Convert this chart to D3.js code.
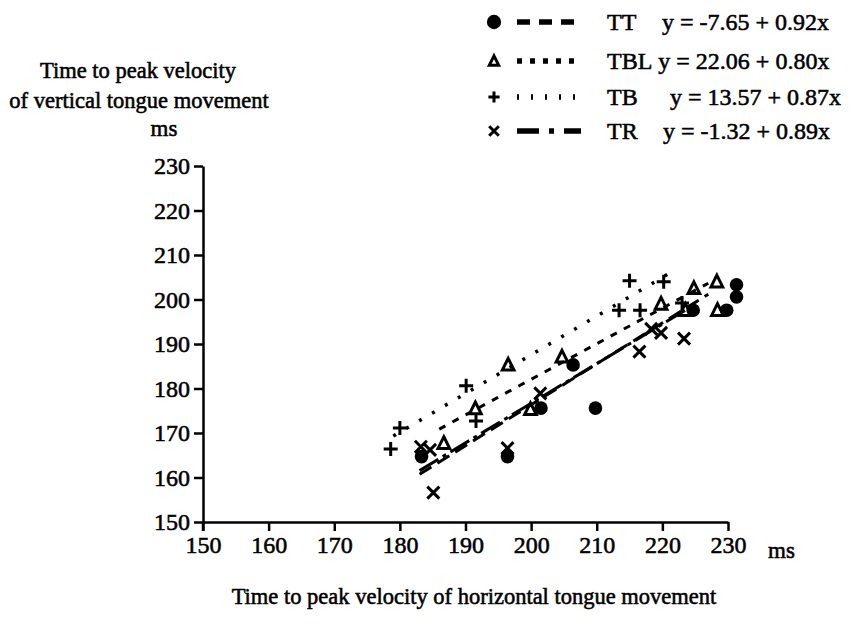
<!DOCTYPE html>
<html>
<head>
<meta charset="utf-8">
<script src="https://cdn.jsdelivr.net/npm/d3@7/dist/d3.min.js"></script>
<style>
  html, body { margin: 0; padding: 0; background: #fff; }
  svg text { font-family: "Liberation Serif", "DejaVu Serif", serif; fill: #000; stroke: #000; stroke-width: 0.55px; }
</style>
</head>
<body>
<div id="chart"></div>
<script>
// tick values (ms)
const xTicks = [150, 160, 170, 180, 190, 200, 210, 220, 230];
const yTicks = [150, 160, 170, 180, 190, 200, 210, 220, 230];

// series (horizontal ms, vertical ms)
const seriesNames = ['TT', 'TBL', 'TB', 'TR'];
const equations = ['y = -7.65 + 0.92x', 'y = 22.06 + 0.80x', 'y = 13.57 + 0.87x', 'y = -1.32 + 0.89x'];
const intercepts = [-7.65, 22.06, 13.57, -1.32];
const slopes = [0.92, 0.80, 0.87, 0.89];
const lineRanges = [[183, 227], [186, 227], [179, 221], [183, 224]];

const ttPoints = [[183.3, 164.7], [196.4, 164.7], [201.5, 175.6], [209.8, 175.6], [206.4, 185.3],
  [224.7, 197.6], [229.8, 197.6], [231.3, 203.3], [231.3, 200.6]];
const tblPoints = [[186.7, 167.7], [191.5, 175.5], [196.5, 185.3], [199.9, 175.3], [204.7, 187.1],
  [219.8, 199.0], [223.5, 197.6], [224.8, 202.5], [228.3, 204.0], [228.4, 197.6]];
const tbPoints = [[178.6, 166.4], [180.0, 171.1], [190.1, 180.6], [191.6, 172.7], [213.4, 197.6],
  [216.6, 197.6], [215.0, 204.2], [220.2, 204.0], [223.0, 199.2]];
const trPoints = [[183.2, 166.9], [184.6, 166.2], [185.1, 156.6], [196.4, 166.6], [201.4, 178.9],
  [216.5, 188.3], [218.3, 193.4], [219.8, 192.5], [223.3, 191.2]];
const allPoints = [ttPoints, tblPoints, tbPoints, trPoints];

const W = 866, H = 636;
const svg = d3.select('#chart').append('svg').attr('width', W).attr('height', H);

const x = d3.scaleLinear().domain([150, 230]).range([203, 728]);
const y = d3.scaleLinear().domain([150, 230]).range([522, 166]);

// axes
const xAxis = svg.append('g').attr('transform', `translate(0,${y(150)})`)
  .call(d3.axisBottom(x).tickValues(xTicks).tickSize(9).tickSizeOuter(0).tickPadding(5));
const yAxis = svg.append('g').attr('transform', `translate(${x(150)},0)`)
  .call(d3.axisLeft(y).tickValues(yTicks).tickSize(9).tickSizeOuter(0).tickPadding(4));
[xAxis, yAxis].forEach(g => {
  g.attr('font-family', null);
  g.select('.domain').attr('stroke', '#000').attr('stroke-width', 2.5);
  g.selectAll('.tick line').attr('stroke', '#000').attr('stroke-width', 2.5);
  g.selectAll('.tick text').style('font-size', '24px').attr('fill', '#000');
});
// y axis reaches a little below the x axis (cross at origin)
svg.append('line').attr('x1', x(150)).attr('x2', x(150)).attr('y1', y(150)).attr('y2', y(150) + 9)
  .attr('stroke', '#000').attr('stroke-width', 2.5);

svg.append('text').attr('x', 768).attr('y', 558).style('font-size', '23px').text('ms');
svg.append('text').attr('x', 164).attr('y', 136).attr('text-anchor', 'middle').style('font-size', '23px').text('ms');

svg.append('text').attr('x', 138).attr('y', 78).attr('text-anchor', 'middle').style('font-size', '22.5px')
  .text('Time to peak velocity');
svg.append('text').attr('x', 139).attr('y', 108).attr('text-anchor', 'middle').style('font-size', '22.5px')
  .text('of vertical tongue movement');
svg.append('text').attr('x', 474).attr('y', 604).attr('text-anchor', 'middle').style('font-size', '22.5px')
  .text('Time to peak velocity of horizontal tongue movement');

// line styles
const plotDash = ['14,7', '7,8', '3,12', '22,5,4,5'];
const legendDash = ['13,9', '5,8', '2,12', '22,10,5,10'];

// regression lines
seriesNames.forEach((s, i) => {
  const [a, b] = lineRanges[i];
  svg.append('line')
    .attr('x1', x(a)).attr('y1', y(intercepts[i] + slopes[i] * a))
    .attr('x2', x(b)).attr('y2', y(intercepts[i] + slopes[i] * b))
    .attr('stroke', '#000').attr('stroke-width', i === 2 ? 3.5 : 3)
    .attr('stroke-dasharray', plotDash[i]);
});

// markers
function marker(g, i, cx, cy, k) {
  if (i === 0) {
    g.append('circle').attr('cx', cx).attr('cy', cy).attr('r', 6.8 * k).attr('fill', '#000');
  } else if (i === 1) {
    const s = 6.5 * k;
    g.append('path').attr('d', `M${cx},${cy - s}L${cx + s * 0.9},${cy + s * 0.8}L${cx - s * 0.9},${cy + s * 0.8}Z`)
      .attr('fill', 'none').attr('stroke', '#000').attr('stroke-width', 3);
  } else if (i === 2) {
    const s = 7 * k;
    g.append('path').attr('d', `M${cx - s},${cy}H${cx + s}M${cx},${cy - s}V${cy + s}`)
      .attr('stroke', '#000').attr('stroke-width', 3);
  } else {
    const s = 6 * k;
    g.append('path').attr('d', `M${cx - s},${cy - s}L${cx + s},${cy + s}M${cx + s},${cy - s}L${cx - s},${cy + s}`)
      .attr('stroke', '#000').attr('stroke-width', 3);
  }
}

const pts = svg.append('g');
allPoints.forEach((arr, i) => {
  arr.forEach(d => marker(pts, i, x(d[0]), y(d[1]), 1));
});

// legend
const legendRows = [22, 61, 97, 131];
const legendEqX = [662, 655, 670, 663];
const leg = svg.append('g');
seriesNames.forEach((s, i) => {
  const cy = legendRows[i];
  marker(leg, i, 494, cy, i === 0 ? 1.05 : 0.8);
  leg.append('line').attr('x1', 517).attr('x2', 581).attr('y1', cy).attr('y2', cy)
    .attr('stroke', '#000').attr('stroke-width', 5.5).attr('stroke-dasharray', legendDash[i]);
  const name = leg.append('text').attr('x', 607).attr('y', cy + 8).style('font-size', '24px').text(s);
  const nameEnd = 607 + name.node().getComputedTextLength();
  leg.append('text').attr('x', Math.max(legendEqX[i], nameEnd + 6)).attr('y', cy + 8)
    .style('font-size', '24px').text(equations[i]);
});
</script>
</body>
</html>
